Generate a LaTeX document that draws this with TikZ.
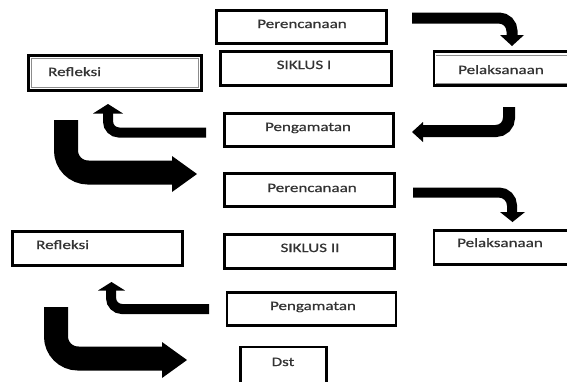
\documentclass[tikz,border=0pt]{standalone}
\usepackage{fontspec}
\setmainfont[FakeStretch=1.33,FakeBold=0.7]{Carlito}
\begin{document}
\begin{tikzpicture}[x=1pt,y=-1pt,
  box/.style={draw=black, line width=2.6pt, fill=white, inner sep=0pt, outer sep=0pt},
  lbl/.style={anchor=base, inner sep=0pt, text=black!80, font=\fontsize{12.8}{14}\selectfont},
  lbll/.style={lbl, anchor=base west},
  shaft/.style={draw=black, line width=#1, line cap=butt},
  head/.style={fill=black}]
\useasboundingbox (0,0) rectangle (567,381);
\clip (0,0) rectangle (567,381);
\fill[white] (0,0) rectangle (567,381);

% boxes
\node[box, minimum width=170pt, minimum height=33pt] (per1) at (301.5,27) {};
\node[lbl] at (302,28) {Perencanaan};
\node[box, minimum width=171pt, minimum height=34pt] (sik1) at (306,68.5) {};
\node[lbl] at (304,69) {SIKLUS I};
\node[box, minimum width=137pt, minimum height=34pt] (pel1) at (502.5,68.5) {};
\draw[black!45, line width=1pt] (436,55) -- (570,55) (436,83) -- (570,83);
\node[lbl] at (501,74) {Pelaksanaan};
\node[box, minimum width=173pt, minimum height=35pt] (ref1) at (115,73) {};
\draw[black!45, line width=1.2pt] (31.5,58.5) rectangle (198.5,87.5);
\node[lbll] at (48,76) {Refleksi};
\node[box, minimum width=169pt, minimum height=33pt] (pen1) at (309,130) {};
\node[lbl] at (308,131) {Pengamatan};
\node[box, minimum width=170pt, minimum height=33pt] (per2) at (309.5,190) {};
\node[lbl] at (312,192) {Perencanaan};
\node[box, minimum width=170pt, minimum height=34pt] (ref2) at (97.5,248.5) {};
\node[lbll] at (36,249) {Refleksi};
\node[box, minimum width=170pt, minimum height=34pt] (sik2) at (309.5,251.5) {};
\node[lbl] at (310,252) {SIKLUS II};
\node[box, minimum width=137pt, minimum height=34pt] (pel2) at (502.5,247.5) {};
\node[lbl] at (500,247) {Pelaksanaan};
\node[box, minimum width=169pt, minimum height=33pt] (pen2) at (311.5,309) {};
\node[lbl] at (313,310) {Pengamatan};
\node[box, minimum width=86pt, minimum height=48pt] (dst) at (283.5,371) {};
\node[lbl] at (283,366) {Dst};

% connector end points
\coordinate (a1s) at (412,18);   \coordinate (a1c) at (512,18);   \coordinate (a1e) at (512,36);
\coordinate (a2s) at (509,107);  \coordinate (a2c) at (509,131);  \coordinate (a2e) at (423,131);
\coordinate (a3s) at (206,132.5);\coordinate (a3c) at (108,132.5);\coordinate (a3e) at (108,113);
\coordinate (a4s) at (66,120);   \coordinate (a4c) at (66,172.5); \coordinate (a4e) at (173,172.5);
\coordinate (a5s) at (413,192.5);\coordinate (a5c) at (512,192.5);\coordinate (a5e) at (512,213);
\coordinate (a6s) at (209,309);  \coordinate (a6c) at (111,309);  \coordinate (a6e) at (111,290);
\coordinate (a7s) at (56,307);   \coordinate (a7c) at (56,358.5); \coordinate (a7e) at (163,358.5);

% arrows: shafts
\draw[shaft=11pt, rounded corners=13pt] (a1s) -- (a1c) -- (a1e);
\draw[shaft=12pt, rounded corners=13pt] (a2s) -- (a2c) -- (a2e);
\draw[shaft=10pt, rounded corners=11pt] (a3s) -- (a3c) -- (a3e);
\draw[shaft=24pt, rounded corners=22pt] (a4s) -- (a4c) -- (a4e);
\draw[shaft=10pt, rounded corners=13pt] (a5s) -- (a5c) -- (a5e);
\draw[shaft=10pt, rounded corners=11pt] (a6s) -- (a6c) -- (a6e);
\draw[shaft=24pt, rounded corners=22pt] (a7s) -- (a7c) -- (a7e);

% arrows: heads
\fill[head] (500,35) -- (524,35) -- (512,46) -- cycle;
\fill[head] (423,122) -- (423,142) -- (412,132) -- cycle;
\fill[head] (93,113.5) -- (123,113.5) -- (108,104) -- cycle;
\fill[head] (172,156) -- (172,192) -- (197,174) -- cycle;
\fill[head] (500,212) -- (525,212) -- (512.5,222) -- cycle;
\fill[head] (98,290.5) -- (125,290.5) -- (111.5,282) -- cycle;
\fill[head] (162,342) -- (162,378) -- (187,360) -- cycle;
\end{tikzpicture}
\end{document}
